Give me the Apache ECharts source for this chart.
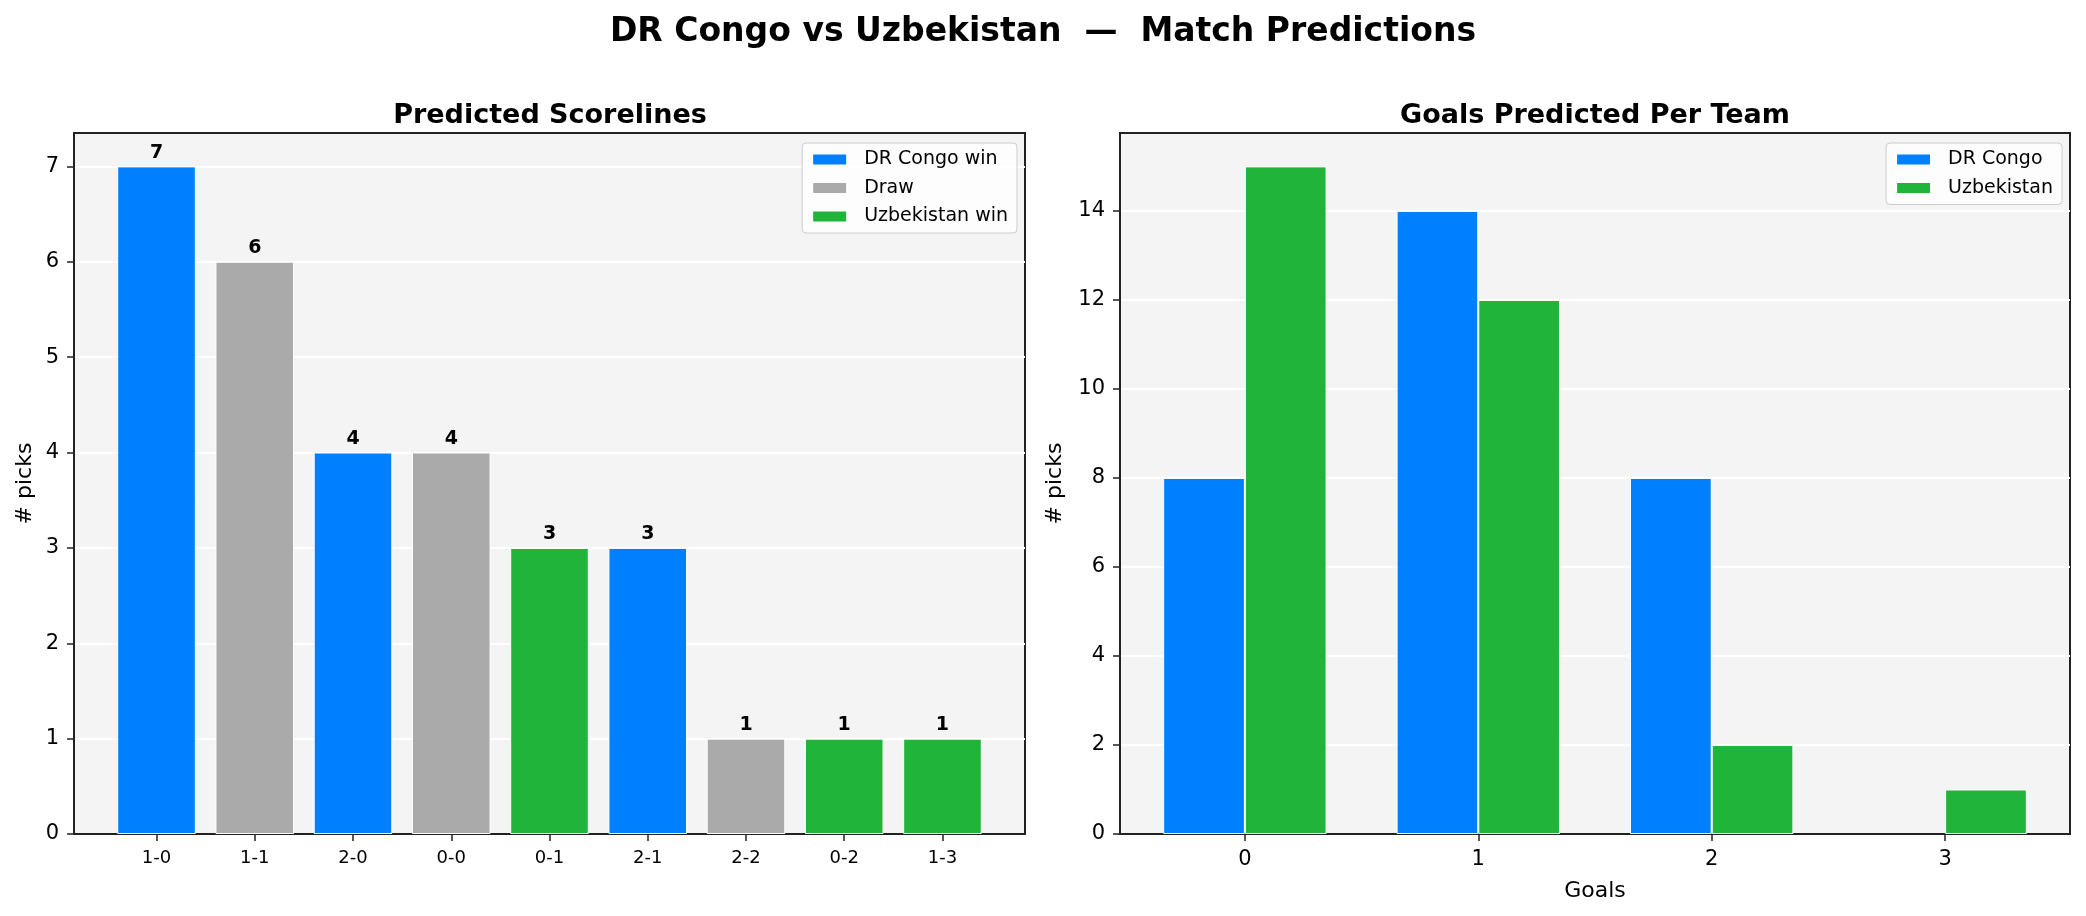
<!DOCTYPE html>
<html>
<head>
<meta charset="utf-8">
<script src="https://cdn.jsdelivr.net/npm/echarts@6.0.0/dist/echarts.min.js"></script>
<style>
  html, body { margin: 0; padding: 0; background: #fff; }
  #chart { width: 2086px; height: 916px; }
</style>
</head>
<body>
<div id="chart"></div>
<script>
// scorelines, ordered by number of picks
const scorelines = ['1-0', '1-1', '2-0', '0-0', '0-1', '2-1', '2-2', '0-2', '1-3'];
const scorePicks = [7, 6, 4, 4, 3, 3, 1, 1, 1];
const outcomeNames = ['DR Congo win', 'Draw', 'Uzbekistan win'];

// goals per team
const goalTicks = [0, 1, 2, 3];
const drCongoGoals = [8, 14, 8, 0];
const uzbekistanGoals = [15, 12, 2, 1];

const BLUE = '#0080ff', GRAY = '#aaaaaa', GREEN = '#21b43b';
const outcomeColors = [BLUE, GRAY, GREEN];
const FONT = 'DejaVu Sans';

function outcomeOf(score) {
    const p = score.split('-').map(Number);
    if (p[0] > p[1]) return 0;
    if (p[0] === p[1]) return 1;
    return 2;
}

const scoreSeries = outcomeNames.map((name, k) => {
    const pts = [];
    scorelines.forEach((s, i) => {
        if (outcomeOf(s) === k) pts.push([i, scorePicks[i]]);
    });
    return {
        name: name,
        type: 'bar',
        xAxisIndex: 0,
        yAxisIndex: 0,
        barWidth: '80%',
        barGap: '-100%',
        itemStyle: { color: outcomeColors[k], borderColor: '#fff', borderWidth: 1 },
        label: {
            show: true,
            position: 'top',
            distance: 4,
            fontFamily: FONT,
            fontWeight: 'bold',
            fontSize: 19,
            color: '#000',
            formatter: p => p.value[1]
        },
        data: pts
    };
});

// zero-height bars are left out, they draw nothing visible
const goalSeries = [
    { name: 'DR Congo', values: drCongoGoals, color: BLUE },
    { name: 'Uzbekistan', values: uzbekistanGoals, color: GREEN }
].map(g => ({
    name: g.name,
    type: 'bar',
    xAxisIndex: 1,
    yAxisIndex: 1,
    barWidth: '35%',
    barGap: '0%',
    itemStyle: { color: g.color, borderColor: '#fff', borderWidth: 1 },
    data: goalTicks.map((t, i) => [t, g.values[i]]).filter(d => d[1] > 0)
}));

const frame = { show: true, onZero: false, lineStyle: { color: '#222', width: 2 } };
const ticks = { show: true, length: 7, lineStyle: { color: '#222', width: 1.5 } };
const whiteGrid = { show: true, showMinLine: false, showMaxLine: false, lineStyle: { color: '#fff', width: 2 } };

function legendBox(names, right) {
    return {
        data: names,
        orient: 'vertical',
        right: right,
        top: 143,
        itemWidth: 35,
        itemHeight: 12,
        itemGap: 9.5,
        icon: 'rect',
        padding: [7, 9, 7, 9],
        backgroundColor: 'rgba(255,255,255,0.8)',
        borderColor: '#cccccc',
        borderWidth: 1,
        borderRadius: 4,
        textStyle: { fontFamily: FONT, fontSize: 19, color: '#000', lineHeight: 19, padding: [0, 0, 0, 12] }
    };
}

const chart = echarts.init(document.getElementById('chart'));
chart.setOption({
    animation: false,
    textStyle: { fontFamily: FONT },
    title: [
        { text: 'DR Congo vs Uzbekistan  —  Match Predictions', left: 1043, top: 16, textAlign: 'center',
          padding: 0, textStyle: { fontFamily: FONT, fontSize: 33, fontWeight: 'bold', color: '#000' } },
        { text: 'Predicted Scorelines', left: 550, top: 102, textAlign: 'center',
          padding: 0, textStyle: { fontFamily: FONT, fontSize: 27, fontWeight: 'bold', color: '#000' } },
        { text: 'Goals Predicted Per Team', left: 1595, top: 102, textAlign: 'center',
          padding: 0, textStyle: { fontFamily: FONT, fontSize: 27, fontWeight: 'bold', color: '#000' } }
    ],
    legend: [
        legendBox(outcomeNames, 1069),
        legendBox(['DR Congo', 'Uzbekistan'], 24)
    ],
    grid: [
        { left: 74, right: 1061, top: 133, bottom: 82, show: true, backgroundColor: '#f4f4f4',
          borderColor: '#222', borderWidth: 2 },
        { left: 1120, right: 16, top: 133, bottom: 82, show: true, backgroundColor: '#f4f4f4',
          borderColor: '#222', borderWidth: 2 }
    ],
    xAxis: [
        {
            type: 'value', gridIndex: 0, min: -0.84, max: 8.84,
            axisLine: frame, axisTick: Object.assign({ customValues: scorelines.map((s, i) => i) }, ticks),
            splitLine: { show: false },
            axisLabel: { customValues: scorelines.map((s, i) => i), formatter: v => scorelines[v],
                         fontSize: 18, color: '#000', margin: 15 }
        },
        {
            type: 'value', gridIndex: 1, min: -0.535, max: 3.535,
            name: 'Goals', nameLocation: 'middle', nameGap: 46,
            nameTextStyle: { fontSize: 22, color: '#000' },
            axisLine: frame, axisTick: Object.assign({ customValues: goalTicks }, ticks),
            splitLine: { show: false },
            axisLabel: { customValues: goalTicks, formatter: v => String(v),
                         fontSize: 21, color: '#000', margin: 15 }
        }
    ],
    yAxis: [
        {
            type: 'value', gridIndex: 0, min: 0, max: 7.35, interval: 1,
            name: '# picks', nameLocation: 'middle', nameGap: 38,
            nameTextStyle: { fontSize: 22, color: '#000' },
            axisLine: frame, axisTick: ticks,
            splitLine: whiteGrid,
            axisLabel: { fontSize: 21, color: '#000', margin: 15, showMaxLabel: false }
        },
        {
            type: 'value', gridIndex: 1, min: 0, max: 15.75, interval: 2,
            name: '# picks', nameLocation: 'middle', nameGap: 54,
            nameTextStyle: { fontSize: 22, color: '#000' },
            axisLine: frame, axisTick: ticks,
            splitLine: whiteGrid,
            axisLabel: { fontSize: 21, color: '#000', margin: 15, showMaxLabel: false }
        }
    ],
    series: scoreSeries.concat(goalSeries)
});
</script>
</body>
</html>
